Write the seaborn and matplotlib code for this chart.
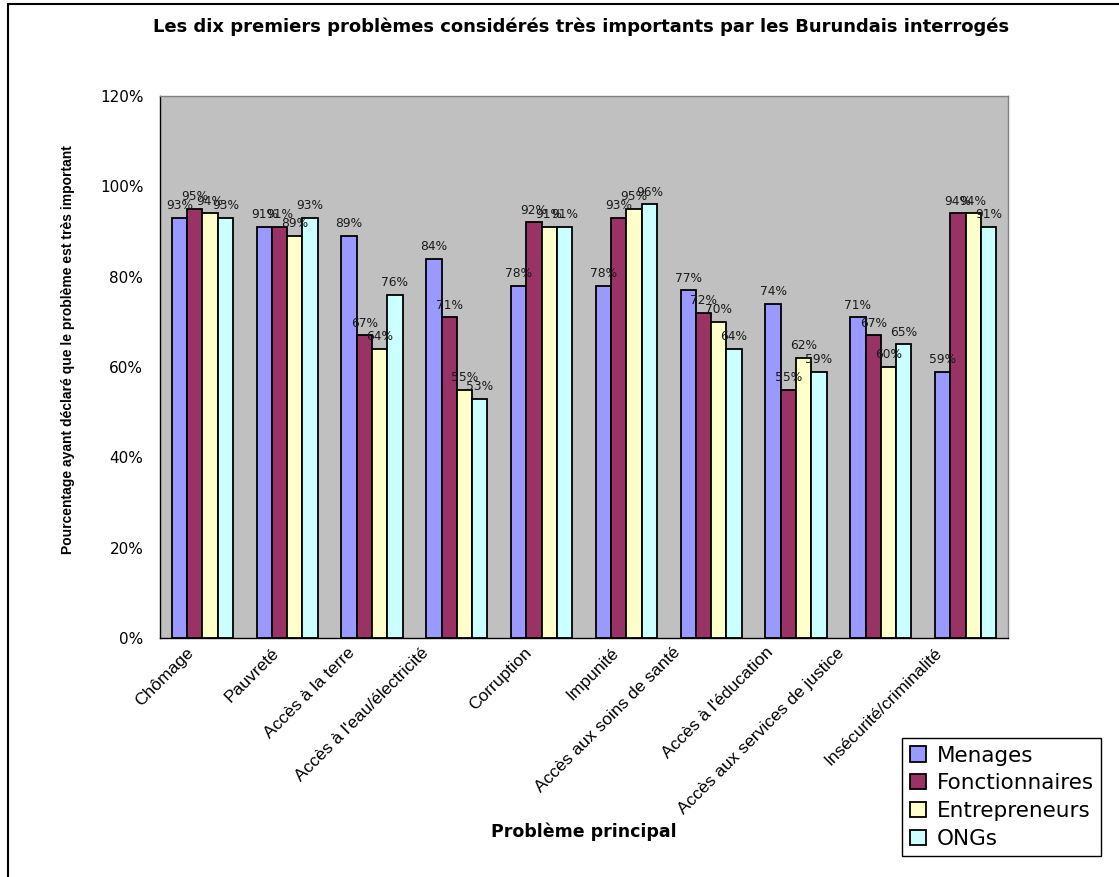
import numpy as np
import pandas as pd
import matplotlib
matplotlib.use("Agg")
import matplotlib.pyplot as plt
import seaborn as sns
from matplotlib.ticker import PercentFormatter, FixedLocator
from matplotlib.transforms import ScaledTranslation
from matplotlib.lines import Line2D

# Survey results: share of respondents rating each problem as "very important"
problemes = [
    "Chômage", "Pauvreté", "Accès à la terre", "Accès à l'eau/électricité",
    "Corruption", "Impunité", "Accès aux soins de santé", "Accès à l'éducation",
    "Accès aux services de justice", "Insécurité/criminalité",
]
groupes = ["Menages", "Fonctionnaires", "Entrepreneurs", "ONGs"]
menages = [93, 91, 89, 84, 78, 78, 77, 74, 71, 59]
fonctionnaires = [95, 91, 67, 71, 92, 93, 72, 55, 67, 94]
entrepreneurs = [94, 89, 64, 55, 91, 95, 70, 62, 60, 94]
ongs = [93, 93, 76, 53, 91, 96, 64, 59, 65, 91]
couleurs = ["#9999FF", "#993366", "#FFFFCC", "#CCFFFF"]

df = pd.DataFrame({
    "Problème": problemes * len(groupes),
    "Groupe": np.repeat(groupes, len(problemes)),
    "Pourcentage": menages + fonctionnaires + entrepreneurs + ongs,
})

sns.set_theme(style="white")
plt.rcParams["font.family"] = ["DejaVu Sans"]
plt.rcParams.update({
    "text.color": "black", "axes.labelcolor": "black",
    "xtick.color": "black", "ytick.color": "black",
})

W, H = 1119, 877
fig = plt.figure(figsize=(W / 100, H / 100), dpi=100)
ax = fig.add_axes([160 / W, 1 - 638 / H, (1008 - 160) / W, (638 - 96) / H])
ax.set_facecolor("#C0C0C0")

sns.barplot(
    data=df, x="Problème", y="Pourcentage", hue="Groupe",
    palette=couleurs, width=0.72, edgecolor="black", linewidth=1.3,
    saturation=1, errorbar=None, ax=ax,
)

# value labels above each bar
for cont in ax.containers:
    vals = cont.datavalues
    ax.bar_label(cont, labels=[f"{v:.0f}%" for v in vals], padding=4,
                 fontsize=8.8, color="#1a1a1a")

ax.set_ylim(0, 120)
ax.set_xlim(-0.5, len(problemes) - 0.5)
ax.yaxis.set_major_locator(FixedLocator(np.arange(0, 121, 20)))
ax.yaxis.set_major_formatter(PercentFormatter(100, decimals=0))
ax.tick_params(axis="y", which="major", direction="out", length=5, width=1,
               color="black", labelcolor="black", pad=7, labelsize=11)

# category labels at centres, tick marks on category boundaries
ax.set_xticks(np.arange(len(problemes)))
ax.set_xticklabels(problemes, rotation=45, ha="right", va="top",
                   rotation_mode="anchor", fontsize=12.5, color="black",
                   family=["Liberation Sans", "DejaVu Sans"])
ax.tick_params(axis="x", which="major", length=0, pad=5)
ax.set_xticks(np.arange(-0.5, len(problemes)), minor=True)
ax.tick_params(axis="x", which="minor", direction="out", length=5, width=1,
               color="black")

ax.set_xlabel("")
ax.set_ylabel("")
for side in ["left", "bottom"]:
    ax.spines[side].set_color("black")
    ax.spines[side].set_linewidth(1.0)
for side in ["top", "right"]:
    ax.spines[side].set_color("#808080")
    ax.spines[side].set_linewidth(1.0)

ax.get_legend().remove()
handles, labels = ax.get_legend_handles_labels()
leg = fig.legend(
    handles, labels, loc="upper left",
    bbox_to_anchor=(902 / W, 1 - 738 / H), bbox_transform=fig.transFigure,
    fontsize=15.5, frameon=True, fancybox=False, framealpha=1,
    edgecolor="black", handlelength=0.75, handleheight=0.7,
    handletextpad=0.5, labelspacing=0.36, borderpad=0.35,
    borderaxespad=0.0,
)
leg.get_frame().set_linewidth(1.0)
for t in leg.get_texts():
    t.set_color("black")

fig.text(0.5197, 1 - 27 / H,
         "Les dix premiers problèmes considérés très importants par les Burundais interrogés",
         ha="center", va="center", fontsize=13, fontweight="bold", color="black")
fig.text(584 / W, 1 - 832 / H, "Problème principal", ha="center", va="center",
         fontsize=12.5, fontweight="bold", color="black")
fig.text(68 / W, 1 - 350 / H,
         "Pourcentage ayant déclaré que le problème est très important",
         rotation=90, ha="center", va="center", fontsize=10, fontweight="bold",
         color="black", family=["Liberation Sans", "DejaVu Sans"])

# outer chart frame
fig.add_artist(Line2D([8 / W, 1.0], [1 - 4 / H, 1 - 4 / H], color="black",
                      lw=1.5, transform=fig.transFigure))
fig.add_artist(Line2D([8 / W, 8 / W], [0.0, 1 - 4 / H], color="black",
                      lw=1.5, transform=fig.transFigure))

# shift rotated category labels left in proportion to their extent
fig.canvas.draw()
renderer = fig.canvas.get_renderer()
for lbl in ax.get_xticklabels():
    w = lbl.get_window_extent(renderer).width
    lbl.set_transform(lbl.get_transform()
                      + ScaledTranslation(-0.26 * w / fig.dpi, 0, fig.dpi_scale_trans))

fig.savefig("out.png", dpi=100)
